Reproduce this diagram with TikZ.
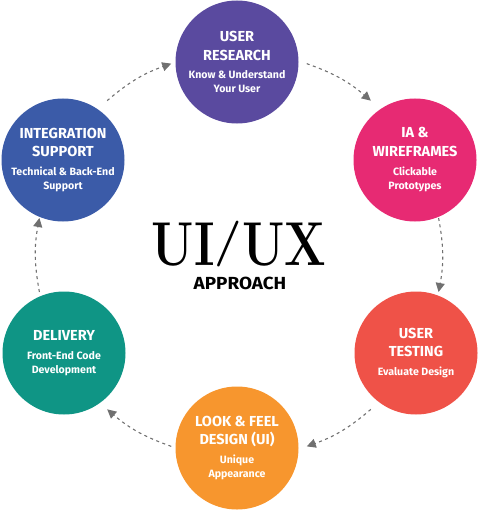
\documentclass[tikz,border=0pt]{standalone}
\usepackage{fontspec}
\setsansfont{Fira Sans}
\usetikzlibrary{arrows.meta,calc}
\definecolor{cUR}{HTML}{5A4A9F}
\definecolor{cIA}{HTML}{E72A73}
\definecolor{cUT}{HTML}{EF5248}
\definecolor{cLF}{HTML}{F7962E}
\definecolor{cDL}{HTML}{0F9585}
\definecolor{cIS}{HTML}{3B5BA8}
\definecolor{cArr}{HTML}{707070}
\newcommand{\ttl}[1]{{\fontsize{14.5}{14}\selectfont #1}}
\newcommand{\sub}[1]{{\fontsize{10.6}{14}\selectfont #1}}
\begin{document}
\begin{tikzpicture}[x=1pt,y=1pt,
  stage/.style={circle, minimum size=123pt, inner sep=0pt, text=white,
    font=\sffamily\bfseries\fontsize{10.6}{14}\selectfont, align=center},
  flow/.style={cArr, line width=1.1pt, dash pattern=on 3pt off 3.5pt,
    -{Triangle[length=9pt,width=9pt]}, bend left=10.5}]
\useasboundingbox (0,0) rectangle (483,-516);
\node[stage, fill=cUR] (ur) at (237,-62) {\ttl{USER}\\[4.5pt]\ttl{RESEARCH}\\[4.5pt]\sub{Know \& Understand}\\\sub{Your User}};
\node[stage, fill=cIA] (ia) at (415,-160) {\ttl{IA \&}\\[4.5pt]\ttl{WIREFRAMES}\\[5.5pt]\sub{Clickable}\\\sub{Prototypes}};
\node[stage, fill=cUT] (ut) at (416,-353) {\ttl{USER}\\[4.5pt]\ttl{TESTING}\\[4.5pt]\sub{Evaluate Design}};
\node[stage, fill=cLF] (lf) at (237,-448) {\ttl{LOOK \& FEEL}\\[4.5pt]\ttl{DESIGN (UI)}\\[4.5pt]\sub{Unique}\\\sub{Appearance}};
\node[stage, fill=cDL] (dl) at (64,-353) {\ttl{DELIVERY}\\[4.5pt]\sub{Front-End Code}\\\sub{Development}};
\node[stage, fill=cIS] (is) at (63,-160) {\ttl{INTEGRATION}\\[4.5pt]\ttl{SUPPORT}\\[4.5pt]\sub{Technical \& Back-End}\\\sub{Support}};
\node[anchor=base, inner sep=0pt, xscale=0.79, font=\bfseries\fontsize{62}{62}\selectfont] (uiux) at (239,-265) {UI\raisebox{10pt}{\scalebox{1}[0.74]{/}}UX};
\node[anchor=base, inner sep=0pt, xscale=1.08, font=\sffamily\bfseries\fontsize{17.5}{17.5}\selectfont] (appr) at (240,-289) {APPROACH};
\coordinate (c) at (239,-255);
\foreach \n/\a in {1/60,2/0,3/-60,4/-120,5/180,6/120}{
  \coordinate (s\n) at ($(c)+(\a+10.5:203)$);
  \coordinate (e\n) at ($(c)+(\a-10.5:203)$);
}
\draw[flow] (s1) to (e1);
\draw[flow] (s2) to (e2);
\draw[flow] (s3) to (e3);
\draw[flow] (s4) to (e4);
\draw[flow] (s5) to (e5);
\draw[flow] (s6) to (e6);
\end{tikzpicture}
\end{document}
